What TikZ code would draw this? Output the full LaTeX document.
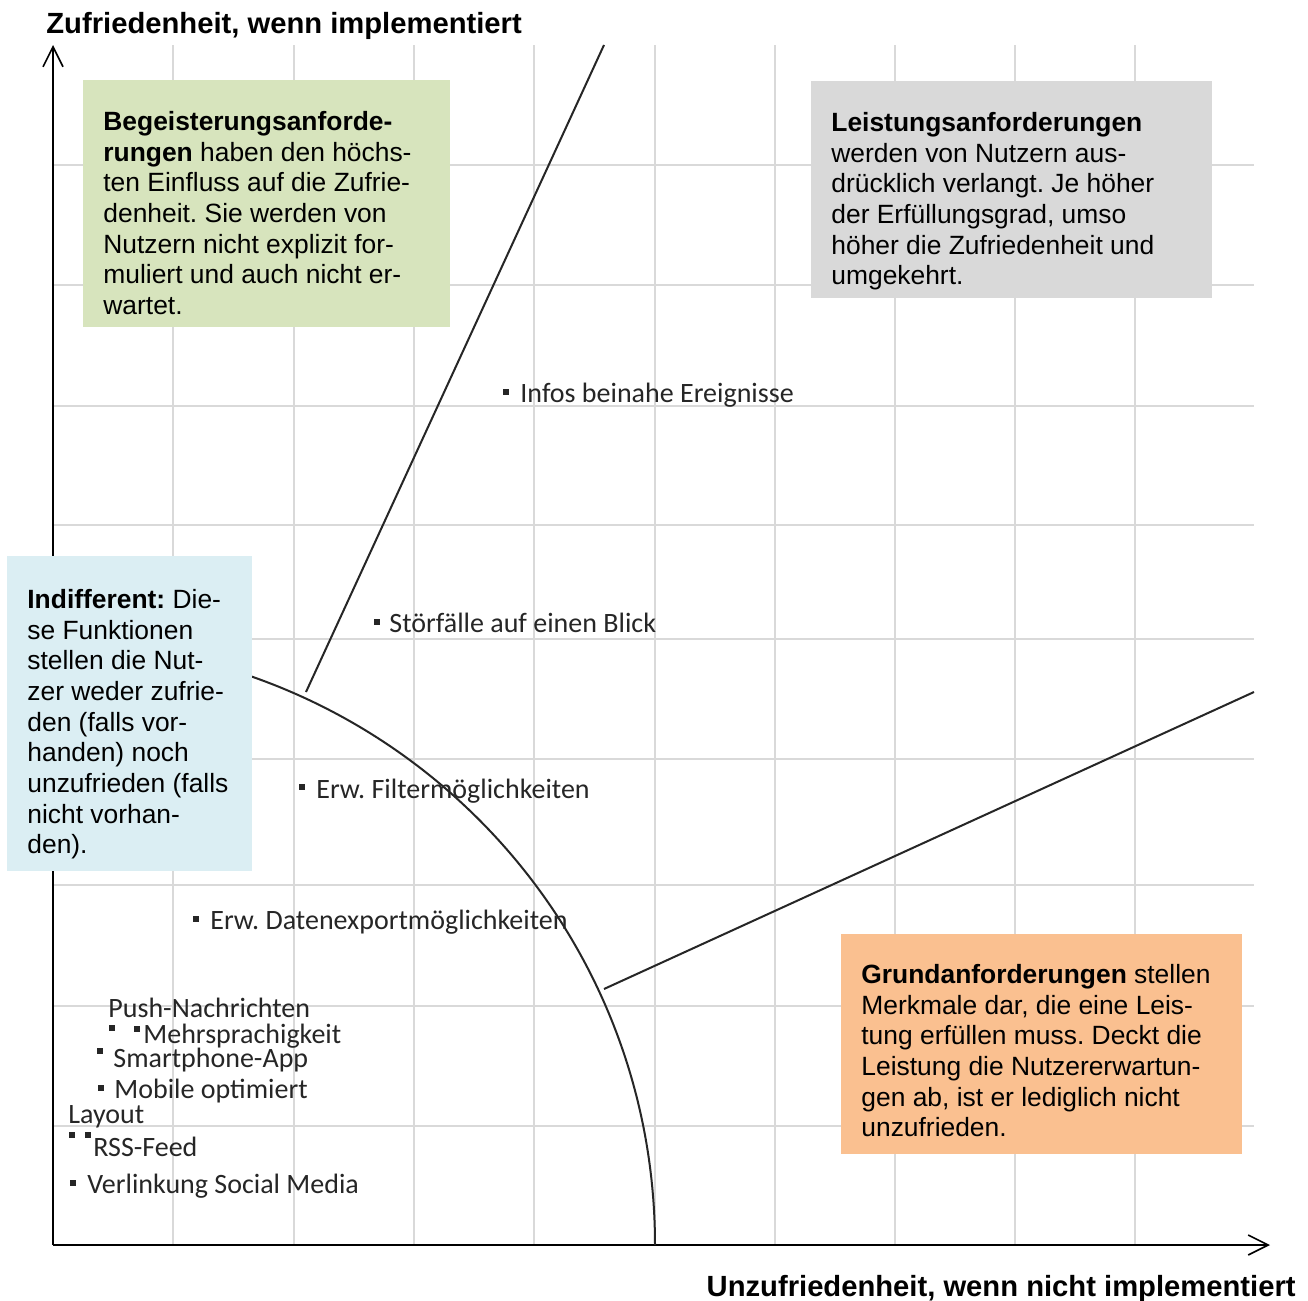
\documentclass[tikz,border=0pt]{standalone}
\usepackage{fontspec}
\setmainfont{Liberation Sans}
\newfontfamily\calib{Carlito}
\usetikzlibrary{arrows.meta}
\frenchspacing
\definecolor{gridc}{HTML}{D9D9D9}
\definecolor{boxgreen}{HTML}{D7E4BD}
\definecolor{boxgrey}{HTML}{D9D9D9}
\definecolor{boxblue}{HTML}{DBEEF3}
\definecolor{boxorange}{HTML}{FAC090}
\definecolor{linec}{HTML}{262626}
\begin{document}
\begin{tikzpicture}[x=0.5pt,y=-0.5pt,
  gridline/.style={draw=gridc, line width=1pt},
  axis/.style={draw=black, line width=1.1pt, -{Straight Barb[length=10pt,width=10pt,line width=0.8pt]}},
  curve/.style={draw=linec, line width=1pt},
  boxtext/.style={anchor=north west, inner sep=0pt, align=left, font=\fontsize{13.2}{15.35}\selectfont},
  axlabel/.style={inner sep=0pt, font=\fontsize{14.6}{17}\selectfont\bfseries},
  marker/.style={fill=black!85, inner sep=0pt, minimum size=3.4pt},
  lbl/.style={anchor=base west, inner sep=0pt, text=black!85, font=\calib\fontsize{14}{16}\selectfont}]
\useasboundingbox (0,0) rectangle (1308,1301);
\fill[white] (0,0) rectangle (1308,1301);
% grid
\foreach \gx in {173,294,414,534,655,775,895,1015,1135}
  \draw[gridline] (\gx,45) -- (\gx,1245);
\foreach \gy in {165,285,406,525,639,759,885,1006,1126}
  \draw[gridline] (53,\gy) -- (1254,\gy);
% axes
\coordinate (O) at (53,1245);
\coordinate (ytop) at (53,45);
\coordinate (xend) at (1270,1245);
\draw[axis] (O) -- (ytop);
\draw[axis] (O) -- (xend);
\node[axlabel, anchor=base west] (ylab) at (46,33) {Zufriedenheit, wenn implementiert};
\node[axlabel, anchor=base east] (xlab) at (1296,1296) {Unzufriedenheit, wenn nicht implementiert};
% curves
\coordinate (arcend) at (655,1245);
\draw[curve] (arcend) arc[start angle=0, end angle=-90, radius=602];
\coordinate (l1a) at (306,692);
\coordinate (l1b) at (604,45);
\coordinate (l2a) at (604,989);
\coordinate (l2b) at (1254,692);
\draw[curve] (l1a) -- (l1b);
\draw[curve] (l2a) -- (l2b);
% data points
\node[marker] (m1) at (506,392) {};
\node[lbl] (t1) at (520,402) {Infos beinahe Ereignisse};
\node[marker] (m2) at (377,622) {};
\node[lbl] (t2) at (389,632) {Störfälle auf einen Blick};
\node[marker] (m3) at (302,787) {};
\node[lbl] (t3) at (316,798) {Erw. Filtermöglichkeiten};
\node[marker] (m4) at (196,919) {};
\node[lbl] (t4) at (210,929) {Erw. Datenexportmöglichkeiten};
\node[marker] (m5) at (112,1028) {};
\node[lbl] (t5) at (108,1017) {Push-Nachrichten};
\node[marker] (m6) at (137,1029) {};
\node[lbl] (t6) at (143,1043) {Mehrsprachigkeit};
\node[marker] (m7) at (100,1051) {};
\node[lbl] (t7) at (113,1067) {Smartphone-App};
\node[marker] (m8) at (101,1088) {};
\node[lbl] (t8) at (114,1098) {Mobile optimiert};
\node[marker] (m9) at (72,1135) {};
\node[lbl] (t9) at (68,1123) {Layout};
\node[marker] (m10) at (88,1135) {};
\node[lbl] (t10) at (93,1156) {RSS-Feed};
\node[marker] (m11) at (73,1183) {};
\node[lbl] (t11) at (87,1193) {Verlinkung Social Media};
% boxes
\fill[boxgreen] (83,80) rectangle (450,327);
\node[boxtext] (gtext) at (103,108.5) {\strut\textbf{Begeisterungsanforde-}\\
\textbf{rungen} haben den höchs-\\
ten Einfluss auf die Zufrie-\\
denheit. Sie werden von\\
Nutzern nicht explizit for-\\
muliert und auch nicht er-\\
wartet.};
\fill[boxgrey] (811,81) rectangle (1212,298);
\node[boxtext] (stext) at (831,109.5) {\strut\textbf{Leistungsanforderungen}\\
werden von Nutzern aus-\\
drücklich verlangt. Je höher\\
der Erfüllungsgrad, umso\\
höher die Zufriedenheit und\\
umgekehrt.};
\fill[boxblue] (7,556) rectangle (252,871);
\node[boxtext] (btext) at (27,586.5) {\strut\textbf{Indifferent:} Die-\\
se Funktionen\\
stellen die Nut-\\
zer weder zufrie-\\
den (falls vor-\\
handen) noch\\
unzufrieden (falls\\
nicht vorhan-\\
den).};
\fill[boxorange] (841,934) rectangle (1242,1154);
\node[boxtext] (otext) at (861,961.5) {\strut\textbf{Grundanforderungen} stellen\\
Merkmale dar, die eine Leis-\\
tung erfüllen muss. Deckt die\\
Leistung die Nutzererwartun-\\
gen ab, ist er lediglich nicht\\
unzufrieden.};
\end{tikzpicture}
\end{document}
